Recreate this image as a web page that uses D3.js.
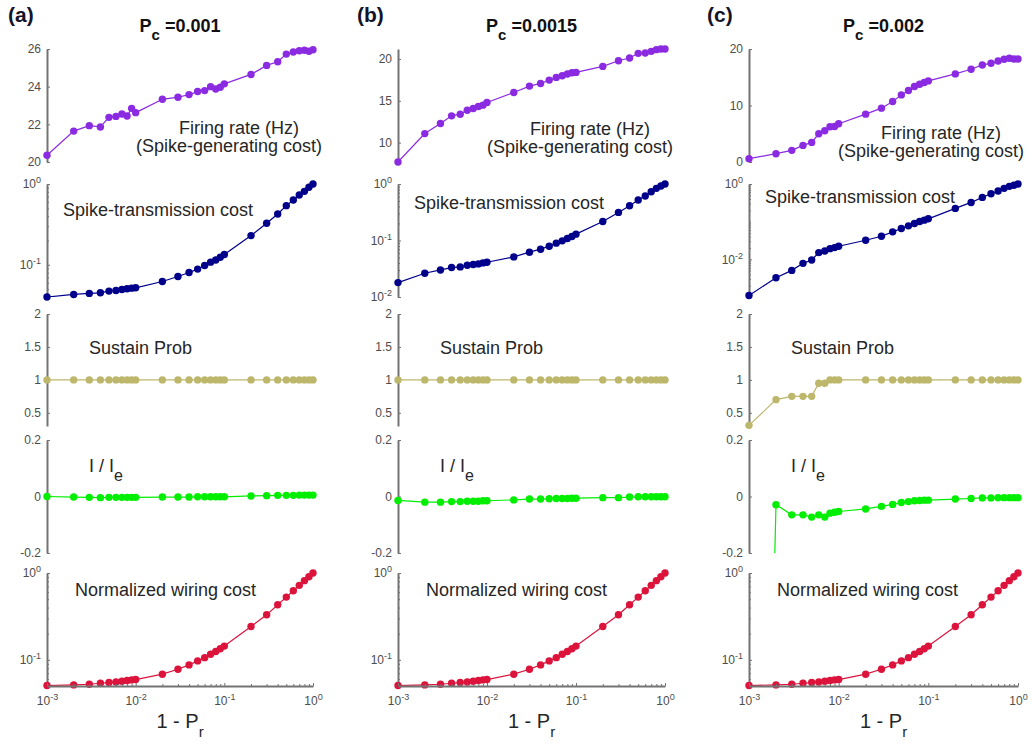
<!DOCTYPE html>
<html>
<head>
<meta charset="utf-8">
<script src="https://cdn.jsdelivr.net/npm/d3@7"></script>
<style>
  body { margin: 0; background: #fff; }
  svg { display: block; font-family: "Liberation Sans", Arial, sans-serif; }
</style>
</head>
<body>
<svg id="chart" width="1032" height="744"></svg>
<script>
// ---- data -------------------------------------------------------------
const xValues = [0.001, 0.002, 0.003, 0.004, 0.005, 0.006, 0.007, 0.008, 0.009,
  0.01, 0.02, 0.03, 0.04, 0.05, 0.06, 0.07, 0.08, 0.09,
  0.1, 0.2, 0.3, 0.4, 0.5, 0.6, 0.7, 0.8, 0.9, 1.0];

const panelLetters = ["(a)", "(b)", "(c)"];
const connectionProbs = ["0.001", "0.0015", "0.002"];

// firing rate (Hz)
const firingRateA = [20.36, 21.64, 21.93, 21.86, 22.37, 22.42, 22.55, 22.44, 22.85, 22.62,
  23.33, 23.44, 23.58, 23.74, 23.79, 24.0, 23.88, 23.97, 24.15,
  24.65, 25.13, 25.32, 25.73, 25.84, 25.91, 25.93, 25.88, 25.96];
const firingRateB = [7.68, 11.08, 12.28, 13.2, 13.4, 13.88, 14.08, 14.32, 14.48, 14.8,
  16.0, 16.76, 17.08, 17.48, 17.8, 18.0, 18.2, 18.36, 18.4,
  19.12, 19.8, 20.12, 20.68, 20.72, 20.92, 21.12, 21.2, 21.2];
const firingRateC = [0.59, 1.47, 2.06, 2.94, 3.47, 5.0, 5.53, 6.24, 6.29, 6.76,
  8.47, 9.53, 10.7, 11.88, 12.65, 13.35, 13.76, 14.06, 14.35,
  15.59, 16.41, 17.18, 17.47, 17.88, 18.18, 18.35, 18.24, 18.24];

// spike-transmission cost
const transmissionA = [0.04, 0.043, 0.0443, 0.0451, 0.0473, 0.0482, 0.0496, 0.0506, 0.0515, 0.052,
  0.0622, 0.0718, 0.0804, 0.0885, 0.098, 0.108, 0.115, 0.124, 0.134,
  0.23, 0.327, 0.426, 0.54, 0.634, 0.731, 0.811, 0.91, 1.0];
const transmissionB = [0.018, 0.0263, 0.0301, 0.0332, 0.0341, 0.0365, 0.0375, 0.0385, 0.0401, 0.0412,
  0.0513, 0.0621, 0.0702, 0.0793, 0.0897, 0.0986, 0.1086, 0.118, 0.1295,
  0.217, 0.314, 0.412, 0.52, 0.612, 0.731, 0.838, 0.921, 1.0];
const transmissionC = [0.0011, 0.00324, 0.00509, 0.00782, 0.0096, 0.0151, 0.0167, 0.0192, 0.0205, 0.0222,
  0.0321, 0.041, 0.0536, 0.0658, 0.0774, 0.0894, 0.101, 0.1096, 0.119,
  0.225, 0.324, 0.441, 0.552, 0.65, 0.766, 0.867, 0.93, 1.0];

// sustain probability
const sustainA = [1, 1, 1, 1, 1, 1, 1, 1, 1, 1, 1, 1, 1, 1, 1, 1, 1, 1, 1, 1, 1, 1, 1, 1, 1, 1, 1, 1];
const sustainB = [1, 1, 1, 1, 1, 1, 1, 1, 1, 1, 1, 1, 1, 1, 1, 1, 1, 1, 1, 1, 1, 1, 1, 1, 1, 1, 1, 1];
const sustainC = [0.31, 0.70, 0.75, 0.75, 0.75, 0.95, 0.95, 1, 1, 1, 1, 1, 1, 1, 1, 1, 1, 1, 1,
  1, 1, 1, 1, 1, 1, 1, 1, 1];

// I / Ie
const currentA = [0, -0.002, -0.003, -0.004, -0.003, -0.003, -0.003, -0.003, -0.003, -0.003,
  -0.002, -0.002, -0.002, -0.001, -0.001, -0.001, -0.001, -0.001, -0.001,
  0.002, 0.003, 0.004, 0.004, 0.004, 0.005, 0.005, 0.005, 0.005];
const currentB = [-0.014, -0.02, -0.02, -0.018, -0.018, -0.017, -0.017, -0.017, -0.015, -0.015,
  -0.012, -0.009, -0.009, -0.008, -0.007, -0.007, -0.007, -0.006, -0.006,
  -0.004, -0.004, -0.002, -0.001, -0.001, -0.001, -0.001, -0.001, -0.001];
const currentC = [-4, -0.029, -0.065, -0.065, -0.073, -0.065, -0.073, -0.059, -0.056, -0.053,
  -0.044, -0.035, -0.028, -0.021, -0.018, -0.015, -0.014, -0.013, -0.013,
  -0.009, -0.007, -0.005, -0.005, -0.004, -0.004, -0.004, -0.004, -0.004];

// normalized wiring cost (same in all three columns)
const wiringCost = [0.0506, 0.0515, 0.0524, 0.0538, 0.0548, 0.0557, 0.0567, 0.0578, 0.0588, 0.0593,
  0.0684, 0.078, 0.0875, 0.0973, 0.106, 0.116, 0.125, 0.134, 0.144,
  0.242, 0.33, 0.431, 0.528, 0.625, 0.721, 0.816, 0.907, 1.0];

// axis ticks
const xTicks = [1e-3, 1e-2, 1e-1, 1e0];
const firingTicks = [[20, 22, 24, 26], [10, 15, 20], [0, 10, 20]];
const transmissionTicks = [[1e-1, 1e0], [1e-2, 1e-1, 1e0], [1e-2, 1e0]];
const sustainTicks = [0.5, 1, 1.5, 2];
const currentTicks = [-0.2, 0, 0.2];
const wiringTicks = [1e-1, 1e0];

// ---- layout -----------------------------------------------------------
const columns = [
  { x0: 47, x1: 313, letterX: 8 },
  { x0: 398, x1: 665, letterX: 357 },
  { x0: 749, x1: 1018, letterX: 707 }
];

const rows = [
  { top: 49, bottom: 162, log: false, color: "#8a2be2",
    series: [firingRateA, firingRateB, firingRateC],
    domains: [[20, 26], [7.68, 21.2], [0, 20]],
    ticks: firingTicks },
  { top: 184, bottom: 297, log: true, color: "#00008b",
    series: [transmissionA, transmissionB, transmissionC],
    domains: [[0.04, 1], [0.01, 1], [0.001, 1]],
    ticks: transmissionTicks },
  { top: 314, bottom: 426, log: false, color: "#bdb76b",
    series: [sustainA, sustainB, sustainC],
    domains: [[0.3, 2], [0.3, 2], [0.3, 2]],
    ticks: [sustainTicks, sustainTicks, sustainTicks] },
  { top: 440, bottom: 553, log: false, color: "#00ee00",
    series: [currentA, currentB, currentC],
    domains: [[-0.2, 0.2], [-0.2, 0.2], [-0.2, 0.2]],
    ticks: [currentTicks, currentTicks, currentTicks] },
  { top: 573, bottom: 686, log: true, color: "#dc143c",
    series: [wiringCost, wiringCost, wiringCost],
    domains: [[0.05, 1], [0.05, 1], [0.05, 1]],
    ticks: [wiringTicks, wiringTicks, wiringTicks] }
];

const AXIS_GRAY = "#737373";
const LABEL_GRAY = "#4d4d4d";
const TEXT_DARK = "#262626";
const TICK_FONT = 12;

const svg = d3.select("#chart");
const defs = svg.append("defs");

// power-of-ten label: "10" followed by a raised exponent
function powerLabel(text) {
  text.each(function (d) {
    const t = d3.select(this);
    const e = Math.round(Math.log10(d));
    t.text(null);
    t.append("tspan").text("10");
    t.append("tspan").attr("dy", "-0.55em").attr("font-size", "9px").text(String(e));
  });
}

function styleAxis(g) {
  g.select(".domain").attr("stroke", AXIS_GRAY).attr("stroke-width", 2);
  g.selectAll(".tick line").attr("stroke", AXIS_GRAY).attr("stroke-width", 1);
  g.selectAll(".tick text").attr("fill", LABEL_GRAY).attr("font-size", TICK_FONT);
}

columns.forEach((col, ci) => {
  const x = d3.scaleLog().domain([1e-3, 1]).range([col.x0, col.x1]);

  rows.forEach((row, ri) => {
    const dom = row.domains[ci];
    const y = (row.log ? d3.scaleLog() : d3.scaleLinear())
      .domain(dom).range([row.bottom, row.top]);

    const clipId = `clip-${ci}-${ri}`;
    defs.append("clipPath").attr("id", clipId)
      .append("rect")
      .attr("x", col.x0 - 8).attr("y", row.top)
      .attr("width", col.x1 - col.x0 + 16).attr("height", row.bottom - row.top);

    // y axis: ticks pointing into the plot, labels on the left
    const yAxis = d3.axisLeft(y)
      .tickValues(row.ticks[ci])
      .tickSizeInner(-3).tickSizeOuter(0).tickPadding(6)
      .tickFormat(d => String(d));
    const gy = svg.append("g").attr("transform", `translate(${col.x0},0)`).call(yAxis);
    styleAxis(gy);
    if (row.log) {
      gy.selectAll(".tick text").call(powerLabel);
      const majors = new Set(row.ticks[ci].map(v => Math.round(Math.log10(v) * 1000)));
      const minor = y.ticks().filter(v => !majors.has(Math.round(Math.log10(v) * 1000)));
      const gm = svg.append("g").attr("transform", `translate(${col.x0},0)`)
        .call(d3.axisLeft(y).tickValues(minor).tickSizeInner(-2).tickSizeOuter(0).tickFormat(""));
      gm.select(".domain").remove();
      gm.selectAll(".tick line").attr("stroke", AXIS_GRAY);
    }

    const data = xValues.map((xv, i) => ({ x: xv, y: row.series[ci][i] }));

    svg.append("path")
      .datum(data)
      .attr("clip-path", `url(#${clipId})`)
      .attr("fill", "none")
      .attr("stroke", row.color)
      .attr("stroke-width", 1.2)
      .attr("d", d3.line().x(d => x(d.x)).y(d => y(d.y)));

    // markers are shown only for values inside the axis limits
    const lo = dom[0], hi = dom[1];
    const inside = data.filter(d => d.y >= lo * (row.log ? 0.995 : 1) - (row.log ? 0 : 1e-9) && d.y <= hi * 1.0001 + 1e-9);
    svg.append("g").selectAll("circle")
      .data(inside)
      .join("circle")
      .attr("cx", d => x(d.x))
      .attr("cy", d => y(d.y))
      .attr("r", 3.7)
      .attr("fill", row.color);
  });

  // bottom x axis with decade labels and minor ticks
  const bottomRow = rows[rows.length - 1];
  const gx = svg.append("g").attr("transform", `translate(0,${bottomRow.bottom})`)
    .call(d3.axisBottom(x).tickValues(xTicks).tickSizeInner(-3).tickSizeOuter(0).tickPadding(10));
  styleAxis(gx);
  gx.selectAll(".tick text").call(powerLabel);
  const xMinor = x.ticks().filter(v => !xTicks.some(t => Math.abs(Math.log10(v) - Math.log10(t)) < 1e-6));
  const gxm = svg.append("g").attr("transform", `translate(0,${bottomRow.bottom})`)
    .call(d3.axisBottom(x).tickValues(xMinor).tickSizeInner(-2).tickSizeOuter(0).tickFormat(""));
  gxm.select(".domain").remove();
  gxm.selectAll(".tick line").attr("stroke", AXIS_GRAY);

  const cx = (col.x0 + col.x1) / 2;

  // x axis title: 1 - P_r
  const xl = svg.append("text").attr("x", cx).attr("y", 728)
    .attr("text-anchor", "middle").attr("font-size", 20).attr("fill", TEXT_DARK);
  xl.append("tspan").text("1 - P");
  xl.append("tspan").attr("dy", 9).attr("font-size", 15).text("r");

  // column title: P_c = value
  const tt = svg.append("text").attr("x", cx).attr("y", 32)
    .attr("text-anchor", "middle").attr("font-size", 18).attr("font-weight", "bold").attr("fill", "#111");
  tt.append("tspan").text("P");
  tt.append("tspan").attr("dy", 8).attr("font-size", 15).text("c");
  tt.append("tspan").attr("dy", -8).text(" =" + connectionProbs[ci]);

  // panel letter
  svg.append("text").attr("x", col.letterX).attr("y", 22)
    .attr("font-size", 21).attr("font-weight", "bold").attr("fill", "#141428")
    .text(panelLetters[ci]);
});

// ---- in-panel annotations ------------------------------------------------
const annotations = [
  { text: "Firing rate (Hz)", dx: 132, y: [134, 135, 139] },
  { text: "(Spike-generating cost)", dx: 89, y: [152, 153, 157] },
  { text: "Spike-transmission cost", dx: 16, y: [216, 209, 203] },
  { text: "Sustain Prob", dx: 42, y: [354, 354, 354] },
  { text: "Normalized wiring cost", dx: 28, y: [596, 596, 596] }
];

columns.forEach((col, ci) => {
  annotations.forEach(a => {
    svg.append("text")
      .attr("x", col.x0 + a.dx).attr("y", a.y[ci])
      .attr("font-size", 18).attr("fill", TEXT_DARK)
      .text(a.text);
  });
  const ie = svg.append("text").attr("x", col.x0 + 42).attr("y", 472)
    .attr("font-size", 18).attr("fill", TEXT_DARK);
  ie.append("tspan").text("I / I");
  ie.append("tspan").attr("dy", 9).attr("font-size", 16).text("e");
});
</script>
</body>
</html>
